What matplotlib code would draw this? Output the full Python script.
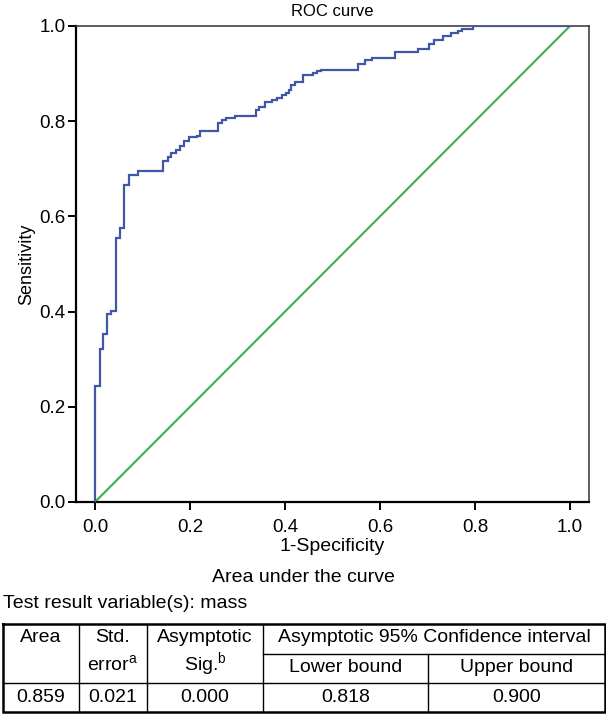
import matplotlib
matplotlib.use("Agg")
import matplotlib.pyplot as plt

plt.rcParams["font.family"] = ["Liberation Sans", "DejaVu Sans"]

# ROC points (1-specificity, sensitivity)
fpr = [0.0, 0.0, 0.010, 0.017, 0.026, 0.034, 0.044, 0.053, 0.062, 0.071,
       0.090, 0.143, 0.153, 0.161, 0.170, 0.179, 0.188, 0.198, 0.214, 0.222,
       0.258, 0.267, 0.276, 0.294, 0.338, 0.345, 0.357, 0.373, 0.383, 0.394,
       0.403, 0.408, 0.412, 0.421, 0.437, 0.459, 0.467, 0.476, 0.553, 0.568,
       0.583, 0.632, 0.680, 0.704, 0.714, 0.732, 0.749, 0.764, 0.772, 0.795,
       1.0]
tpr = [0.0, 0.244, 0.322, 0.352, 0.394, 0.402, 0.554, 0.575, 0.667, 0.686,
       0.695, 0.717, 0.724, 0.733, 0.740, 0.748, 0.758, 0.766, 0.769, 0.779,
       0.796, 0.802, 0.806, 0.810, 0.823, 0.830, 0.840, 0.845, 0.849, 0.855,
       0.860, 0.866, 0.877, 0.883, 0.897, 0.902, 0.905, 0.907, 0.921, 0.929,
       0.933, 0.945, 0.951, 0.962, 0.971, 0.980, 0.985, 0.990, 0.993, 1.0,
       1.0]
ref_line = [0.0, 1.0]
ticks = [0.0, 0.2, 0.4, 0.6, 0.8, 1.0]

# AUC table
area = "0.859"
std_error = "0.021"
asym_sig = "0.000"
lower_bound = "0.818"
upper_bound = "0.900"

W, H = 606, 721
fig = plt.figure(figsize=(W / 100, H / 100), dpi=100)


def px_box(x0, y0, x1, y1):
    # pixel box (top-left origin) -> figure fraction rect
    return [x0 / W, 1 - y1 / H, (x1 - x0) / W, (y1 - y0) / H]


ax = fig.add_axes(px_box(76, 26, 589, 502))
ax.plot(fpr, tpr, drawstyle="steps-post", color="#4256a8", lw=1.6,
        solid_joinstyle="miter", zorder=3)
ax.plot(ref_line, ref_line, color="#3fae4a", lw=1.5, zorder=2)
ax.set_xlim(-0.04, 1.04)
ax.set_ylim(0, 1.0)
ax.set_xticks(ticks)
ax.set_yticks(ticks)
ax.set_xticklabels([f"{t:.1f}" for t in ticks])
ax.set_yticklabels([f"{t:.1f}" for t in ticks])
ax.tick_params(direction="out", length=6, width=1.4, labelsize=13.5,
               colors="black")
ax.tick_params(axis="x", pad=6)
ax.tick_params(axis="y", pad=1.5)
for side in ("left", "bottom"):
    ax.spines[side].set_linewidth(1.6)
for side in ("top", "right"):
    ax.spines[side].set_linewidth(1.1)
    ax.spines[side].set_color("#333333")
ax.set_title("ROC curve", fontsize=12, pad=7)
ax.set_xlabel("1-Specificity", fontsize=14, labelpad=2)
ax.set_ylabel("Sensitivity", fontsize=13, labelpad=3)

fig.text(303 / W, 1 - 578 / H, "Area under the curve", ha="center",
         va="center", fontsize=14)
fig.text(3 / W, 1 - 604 / H, "Test result variable(s): mass", ha="left",
         va="center", fontsize=14)

# table drawn in pixel coordinates
tx = fig.add_axes([0, 0, 1, 1])
tx.set_xlim(0, W)
tx.set_ylim(H, 0)
tx.axis("off")
top, split, head, bot = 624, 654, 683, 712
cols = [3, 79, 147, 263, 428, 605]
lw_in, lw_out = 1.0, 1.8
tx.plot([cols[0], cols[-1], cols[-1], cols[0], cols[0]],
        [top, top, bot, bot, top], color="black", lw=lw_out,
        solid_joinstyle="miter")
tx.plot([cols[0], cols[-1]], [head, head], color="black", lw=lw_in)
tx.plot([cols[3], cols[-1]], [split, split], color="black", lw=lw_in)
for c in cols[1:4]:
    tx.plot([c, c], [top, bot], color="black", lw=lw_in)
tx.plot([cols[4], cols[4]], [split, bot], color="black", lw=lw_in)

fs = 14


def cell(x0, x1, y, s):
    tx.text((x0 + x1) / 2, y, s, ha="center", va="center", fontsize=fs)


cell(cols[0], cols[1], 637, "Area")
cell(cols[1], cols[2], 637, "Std.")
cell(cols[1], cols[2], 665, r"error$^\mathregular{a}$")
cell(cols[2], cols[3], 637, "Asymptotic")
cell(cols[2], cols[3], 665, r"Sig.$^\mathregular{b}$")
cell(cols[3], cols[5], 638, "Asymptotic 95% Confidence interval")
cell(cols[3], cols[4], 668, "Lower bound")
cell(cols[4], cols[5], 668, "Upper bound")
row_y = 697
cell(cols[0], cols[1], row_y, area)
cell(cols[1], cols[2], row_y, std_error)
cell(cols[2], cols[3], row_y, asym_sig)
cell(cols[3], cols[4], row_y, lower_bound)
cell(cols[4], cols[5], row_y, upper_bound)

fig.savefig("out.png", dpi=100)
